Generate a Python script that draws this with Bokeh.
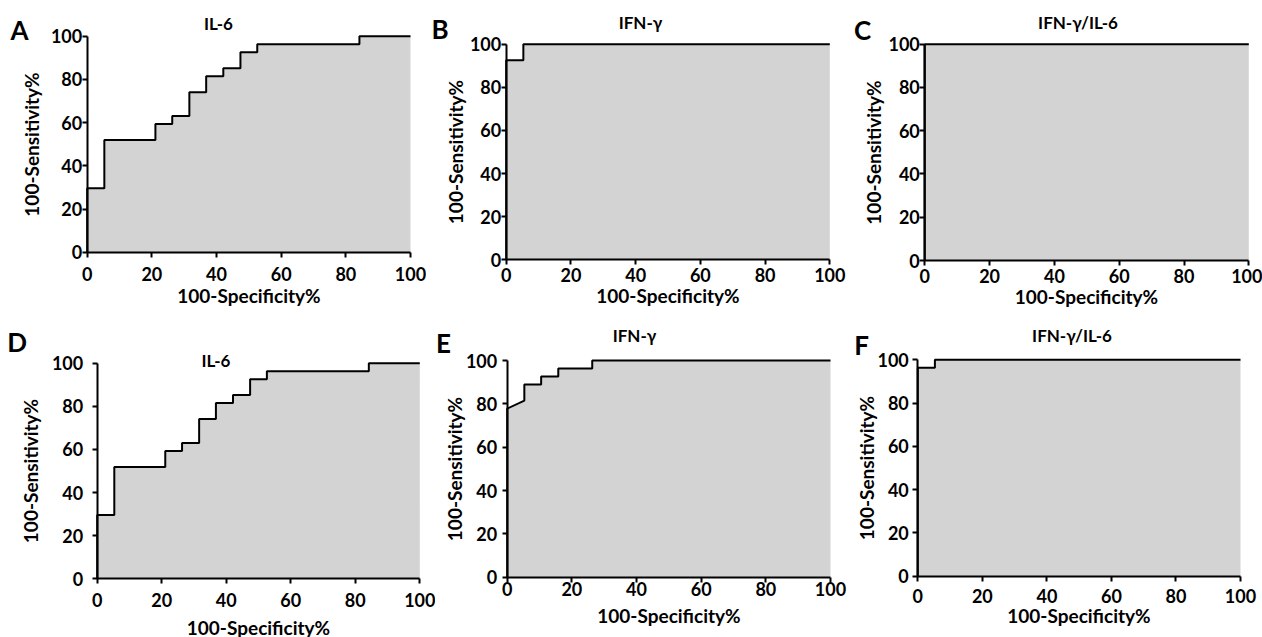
from bokeh.plotting import figure
from bokeh.models import Range1d, FixedTicker, Label
from bokeh.layouts import column, row
from bokeh.embed import file_html
from bokeh.resources import INLINE

# ROC curve vertices (100-Specificity%, 100-Sensitivity% as labelled)
il6_x = [0, 0, 5.3, 5.3, 21.1, 21.1, 26.3, 26.3, 31.6, 31.6, 36.8, 36.8, 42.1, 42.1, 47.4, 47.4, 52.6, 52.6, 84.2, 84.2, 100]
il6_y = [0, 29.6, 29.6, 51.9, 51.9, 59.3, 59.3, 63.0, 63.0, 74.1, 74.1, 81.5, 81.5, 85.2, 85.2, 92.6, 92.6, 96.3, 96.3, 100, 100]

ifn1_x = [0, 0, 5.3, 5.3, 100]
ifn1_y = [0, 92.6, 92.6, 100, 100]

ratio1_x = [0, 0, 100]
ratio1_y = [0, 100, 100]

ifn2_x = [0, 0, 5.3, 5.3, 10.5, 10.5, 15.8, 15.8, 26.3, 26.3, 100]
ifn2_y = [0, 77.8, 81.5, 88.9, 88.9, 92.6, 92.6, 96.3, 96.3, 100, 100]

ratio2_x = [0, 0, 5.3, 5.3, 100]
ratio2_y = [0, 96.3, 96.3, 100, 100]

ticks = [0, 20, 40, 60, 80, 100]
x_label = "100-Specificity%"
y_label = "100-Sensitivity%"
titles = ["IL-6", "IFN-\u03b3", "IFN-\u03b3/IL-6", "IL-6", "IFN-\u03b3", "IFN-\u03b3/IL-6"]
letters = ["A", "B", "C", "D", "E", "F"]

FONT = "Lato"
FILL = "#d3d3d3"
TICK_PX = "18px"
AXIS_PX = "19px"
TITLE_PX = "17px"
LETTER_PX = "26px"

# layout geometry in page pixels
# canvas: (left, top, width, height); frame: (x0, x100, y0, y100)
# text: title centre, letter centre; standoffs: (xtick, xlabel, ytick, ylabel)
geo = [
    dict(canvas=(0, 0, 426, 310), frame=(86.7, 410.0, 251.7, 35.7),
         title=(218, 23), letter=(19, 29), so=(10, -1, 0, 5)),
    dict(canvas=(426, 0, 422, 310), frame=(505.7, 829.3, 259.3, 43.7),
         title=(640, 22), letter=(439.5, 28.5), so=(3, -1, 0, 0)),
    dict(canvas=(848, 0, 414, 310), frame=(924.3, 1248.3, 260.0, 43.7),
         title=(1077.5, 22), letter=(862, 29.5), so=(3, -1, 0, 0)),
    dict(canvas=(0, 310, 435, 327), frame=(96.7, 419.3, 578.3, 362.7),
         title=(215.5, 359.5), letter=(16.7, 341.7), so=(9, 6, 9, 7)),
    dict(canvas=(435, 310, 413, 327), frame=(506.7, 830.0, 576.7, 360.0),
         title=(634, 335), letter=(443, 342), so=(0, 4, 5, -3)),
    dict(canvas=(848, 310, 414, 327), frame=(917.3, 1240.0, 575.7, 359.3),
         title=(1071.5, 335), letter=(861, 344.5), so=(8, -3, 4, -4)),
]


def panel(xs, ys, title, letter, g):
    cl, ct, W, H = g["canvas"]
    X0, X100, Y0, Y100 = g["frame"]
    ppx = (X100 - X0) / 100.0
    ppy = (Y0 - Y100) / 100.0
    xr = Range1d((cl - X0) / ppx, (cl + W - X0) / ppx)
    yr = Range1d((Y0 - (ct + H)) / ppy, (Y0 - ct) / ppy)

    def to_data(px, py):
        return (px - X0) / ppx, (Y0 - py) / ppy

    p = figure(width=W, height=H, output_backend="svg", toolbar_location=None,
               x_range=xr, y_range=yr, min_border=0)
    p.min_border_left = p.min_border_right = 0
    p.min_border_top = p.min_border_bottom = 0
    p.outline_line_color = None
    p.xgrid.visible = False
    p.ygrid.visible = False
    p.background_fill_color = "white"
    p.border_fill_color = "white"

    px = list(xs) + [100, 0]
    py = list(ys) + [0, 0]
    p.patch(px, py, fill_color=FILL, line_color=None)
    p.line(xs, ys, line_color="black", line_width=2)

    for ax in (p.xaxis[0], p.yaxis[0]):
        ax.fixed_location = 0
        ax.bounds = (0, 100)
        ax.ticker = FixedTicker(ticks=ticks)
        ax.axis_line_width = 2
        ax.axis_line_color = "black"
        ax.major_tick_line_width = 2
        ax.major_tick_in = 0
        ax.major_tick_out = 5
        ax.minor_tick_line_color = None
        ax.major_label_text_font = FONT
        ax.major_label_text_font_style = "bold"
        ax.major_label_text_font_size = TICK_PX
        ax.major_label_text_color = "black"
        ax.axis_label_text_font = FONT
        ax.axis_label_text_font_style = "bold"
        ax.axis_label_text_font_size = AXIS_PX
        ax.axis_label_text_color = "black"
    xt, xl, yt, yl = g["so"]
    p.xaxis.axis_label = x_label
    p.yaxis.axis_label = y_label
    p.xaxis.major_label_standoff = xt
    p.xaxis.axis_label_standoff = xl
    p.yaxis.major_label_standoff = yt
    p.yaxis.axis_label_standoff = yl

    tx, ty = to_data(*g["title"])
    lx, ly = to_data(*g["letter"])
    p.add_layout(Label(x=tx, y=ty, text=title, text_font=FONT,
                       text_font_style="bold", text_font_size=TITLE_PX,
                       text_align="center", text_baseline="middle",
                       text_color="black"))
    p.add_layout(Label(x=lx, y=ly, text=letter, text_font=FONT,
                       text_font_style="bold", text_font_size=LETTER_PX,
                       text_align="center", text_baseline="middle",
                       text_color="black"))
    return p


data = [(il6_x, il6_y), (ifn1_x, ifn1_y), (ratio1_x, ratio1_y),
        (il6_x, il6_y), (ifn2_x, ifn2_y), (ratio2_x, ratio2_y)]
figs = [panel(d[0], d[1], t, l, g) for d, t, l, g in zip(data, titles, letters, geo)]

layout = column(row(figs[0], figs[1], figs[2], spacing=0),
                row(figs[3], figs[4], figs[5], spacing=0), spacing=0)

open("out.html", "w").write(file_html(layout, INLINE))
